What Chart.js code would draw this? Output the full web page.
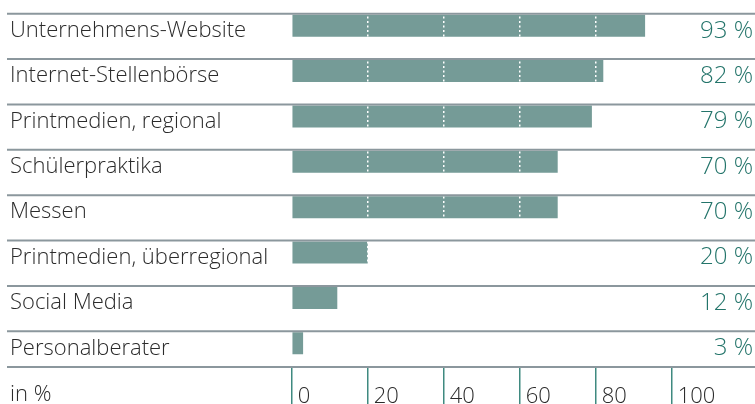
<!DOCTYPE html>
<html><head><meta charset="utf-8">
<script src="https://cdn.jsdelivr.net/npm/chart.js@4.4.1/dist/chart.umd.min.js"></script>
<style>html,body{margin:0;padding:0;background:#fff;overflow:hidden}canvas{display:block}</style>
</head><body>
<canvas id="c" width="755" height="404"></canvas>
<script>
const categories = ["Unternehmens-Website","Internet-Stellenbörse","Printmedien, regional","Schülerpraktika","Messen","Printmedien, überregional","Social Media","Personalberater"];
const values = [93, 82, 79, 70, 70, 20, 12, 3];
const valueLabels = values.map(v => v + ' %');
const xTicks = [0, 20, 40, 60, 80, 100];
const axisUnit = 'in %';

const FONT = "'Open Sans', 'Liberation Sans', sans-serif";
const TEXT = '#2b2b2b';
const TEAL = '#23746a';
const TICK = '#3f8a80';
const BAR = '#759b97';
const SEP = '#8b979d';

const separators = {
  id: 'separators',
  afterDraw(chart) {
    const ctx = chart.ctx;
    const meta = chart.getDatasetMeta(0);
    ctx.save();
    ctx.strokeStyle = SEP;
    ctx.lineWidth = 2;
    meta.data.forEach(bar => {
      const y = bar.y - bar.height / 2 - 1;
      ctx.beginPath(); ctx.moveTo(7, y); ctx.lineTo(755, y); ctx.stroke();
    });
    const yb = chart.chartArea.bottom + 1;
    ctx.beginPath(); ctx.moveTo(7, yb); ctx.lineTo(755, yb); ctx.stroke();
    const xs = chart.scales.x;
    ctx.fillStyle = TEXT;
    ctx.font = "300 22px " + FONT;
    ctx.textBaseline = 'top';
    ctx.textAlign = 'left';
    ctx.fillText(axisUnit, 10, xs.top + 38 - 20);
    ctx.restore();
  }
};

function noPad(scale) {
  scale.paddingTop = 0; scale.paddingBottom = 0;
  scale.paddingLeft = 0; scale.paddingRight = 0;
}

new Chart(document.getElementById('c'), {
  type: 'bar',
  data: {
    labels: categories,
    datasets: [{
      data: values,
      backgroundColor: BAR,
      borderWidth: 0,
      categoryPercentage: 1,
      barPercentage: 0.485
    }]
  },
  options: {
    indexAxis: 'y',
    responsive: false,
    animation: false,
    layout: { padding: { top: 3, left: 10, right: 2, bottom: 0 } },
    plugins: { legend: { display: false }, tooltip: { enabled: false } },
    scales: {
      x: {
        type: 'linear',
        position: 'bottom',
        min: 0, max: 100,
        afterBuildTicks(scale) { scale.ticks = xTicks.map(v => ({ value: v })); },
        afterFit(scale) { scale.height = 38; noPad(scale); },
        border: { display: false, dash: [2, 2.5] },
        grid: {
          z: 1,
          drawOnChartArea: true,
          color: c => (c.tick && (c.tick.value === 0 || c.tick.value === 100)) ? 'rgba(0,0,0,0)' : '#ffffff',
          lineWidth: 1.5,
          tickColor: TICK,
          tickWidth: 1.5,
          tickLength: 38,
          tickBorderDash: [1000, 0]
        },
        ticks: {
          align: 'start',
          labelOffset: 6,
          padding: -20,
          maxRotation: 0,
          autoSkip: false,
          color: TEXT,
          font: { family: FONT, size: 22, weight: '300' }
        }
      },
      y: {
        position: 'left',
        afterFit(scale) { scale.width = 281.7; noPad(scale); },
        border: { display: false },
        grid: { display: false },
        ticks: {
          crossAlign: 'far',
          labelOffset: 5,
          padding: 0,
          color: TEXT,
          font: { family: FONT, size: 22, weight: '300' }
        }
      },
      y2: {
        type: 'category',
        position: 'right',
        labels: valueLabels,
        offset: true,
        afterFit(scale) { scale.width = 81.3; noPad(scale); },
        border: { display: false },
        grid: { display: false },
        ticks: {
          crossAlign: 'far',
          labelOffset: 5,
          padding: 0,
          color: TEAL,
          font: { family: FONT, size: 24, weight: '300' }
        }
      }
    }
  },
  plugins: [separators]
});
</script>
</body></html>
